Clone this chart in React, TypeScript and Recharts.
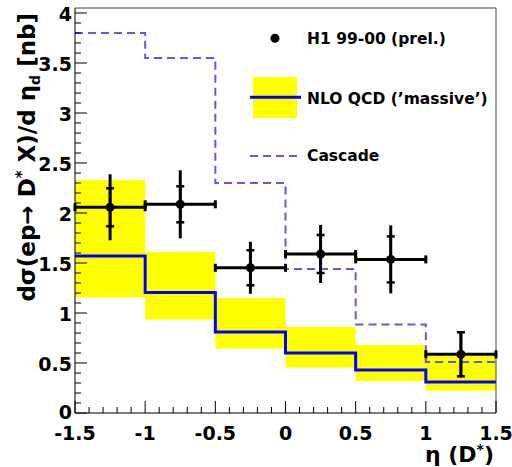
import React from "react";
import {
    ComposedChart,
    Area,
    Line,
    Scatter,
    ErrorBar,
    XAxis,
    YAxis,
    ReferenceLine,
} from "recharts";

// bin edges in eta(D*)
const binEdges = [-1.5, -1, -0.5, 0, 0.5, 1, 1.5];

// NLO QCD ('massive') central value and uncertainty band, per bin
const nloCentral = [1.57, 1.205, 0.81, 0.6, 0.43, 0.31];
const nloLow = [1.155, 0.935, 0.645, 0.455, 0.32, 0.223];
const nloHigh = [2.33, 1.61, 1.15, 0.86, 0.68, 0.575];

// Cascade prediction, per bin
const cascade = [3.8, 3.55, 2.3, 1.44, 0.885, 0.51];

// H1 99-00 (prel.) data points
const h1Eta = [-1.25, -0.75, -0.25, 0.25, 0.75, 1.25];
const h1Value = [2.057, 2.087, 1.452, 1.59, 1.536, 0.587];
const h1StatErr = [0.19, 0.18, 0.175, 0.19, 0.23, 0.22];
const h1TotErr = [0.33, 0.34, 0.26, 0.29, 0.34, 0.23];
const h1EtaHalfWidth = [0.25, 0.25, 0.25, 0.25, 0.25, 0.25];

// axis ticks (majors labelled, minors every 0.1)
const xMajorTicks = [-1.5, -1, -0.5, 0, 0.5, 1, 1.5];
const yMajorTicks = [0, 0.5, 1, 1.5, 2, 2.5, 3, 3.5, 4];

const withMinors = (majors: number[]) => {
    const out: number[] = [];
    majors.forEach((m, i) => {
        out.push(m);
        if (i < majors.length - 1) {
            for (let k = 1; k < 5; k++) out.push(Math.round((m + k * 0.1) * 10) / 10);
        }
    });
    return out;
};
const xTicks = withMinors(xMajorTicks);
const yTicks = withMinors(yMajorTicks);
const isMajor = (v: number) => Math.abs(v * 2 - Math.round(v * 2)) < 1e-6;

const FONT = "'DejaVu Sans', sans-serif";

// step histogram table: last edge repeats the last bin
const histData = binEdges.map((x, i) => {
    const b = Math.min(i, nloCentral.length - 1);
    return {
        x,
        nlo: nloCentral[b],
        band: [nloLow[b], nloHigh[b]],
        cascade: cascade[b],
    };
});

const h1Data = h1Eta.map((x, i) => ({
    x,
    y: h1Value[i],
    stat: h1StatErr[i],
    tot: h1TotErr[i],
    xerr: h1EtaHalfWidth[i],
}));

/* eslint-disable @typescript-eslint/no-explicit-any */
const YTick = (props: any) => {
    const { x, y, payload } = props;
    const v = payload.value as number;
    const major = isMajor(v);
    return (
        <g>
            <line x1={x} x2={x + (major ? 12 : 6)} y1={y} y2={y} stroke="#000" strokeWidth={1} />
            {major && (
                <text x={x - 3} y={y + (v === 0 ? 6 : 8)} textAnchor="end" fontFamily={FONT} fontWeight="bold" fontSize={19} fill="#000">
                    {String(v)}
                </text>
            )}
        </g>
    );
};

const XTick = (props: any) => {
    const { x, y, payload } = props;
    const v = payload.value as number;
    const major = isMajor(v);
    return (
        <g>
            <line x1={x} x2={x} y1={y} y2={y - (major ? 12 : 6)} stroke="#000" strokeWidth={1} />
            {major && (
                <text x={x} y={y + 27} textAnchor="middle" fontFamily={FONT} fontWeight="bold" fontSize={19} fill="#000">
                    {String(v)}
                </text>
            )}
        </g>
    );
};

const Dot = (props: any) => <circle cx={props.cx} cy={props.cy} r={4.5} fill="#000" />;

export default function App() {
    return (
        <div style={{ position: "absolute", left: 0, top: 0, width: 512, height: 467, background: "#fff" }}>
            <ComposedChart
                width={512}
                height={467}
                data={histData}
                margin={{ top: 8, right: 16, bottom: 0, left: 0 }}
            >
                <XAxis
                    dataKey="x"
                    type="number"
                    domain={[-1.5, 1.5]}
                    allowDataOverflow
                    ticks={xTicks}
                    interval={0}
                    tickSize={0}
                    tickMargin={0}
                    tick={XTick}
                    axisLine={{ stroke: "#000", strokeWidth: 1 }}
                    height={54}
                />
                <YAxis
                    type="number"
                    domain={[0, 4.05]}
                    allowDataOverflow
                    ticks={yTicks}
                    interval={0}
                    tickSize={0}
                    tickMargin={0}
                    tick={YTick}
                    axisLine={{ stroke: "#000", strokeWidth: 1 }}
                    width={75}
                />
                {/* NLO uncertainty band */}
                <Area
                    dataKey="band"
                    type="stepAfter"
                    fill="#ffff00"
                    fillOpacity={1}
                    stroke="none"
                    isAnimationActive={false}
                />
                {/* Cascade */}
                <Line
                    dataKey="cascade"
                    type="stepAfter"
                    stroke="#5a5af0"
                    strokeWidth={2}
                    strokeDasharray="8 5"
                    dot={false}
                    activeDot={false}
                    isAnimationActive={false}
                />
                {/* NLO central */}
                <Line
                    dataKey="nlo"
                    type="stepAfter"
                    stroke="#0000ff"
                    strokeWidth={3}
                    dot={false}
                    activeDot={false}
                    isAnimationActive={false}
                />
                <ReferenceLine y={4.05} stroke="#444" strokeWidth={1} />
                <ReferenceLine x={1.5} stroke="#444" strokeWidth={1} />
                {/* H1 data */}
                <Scatter data={h1Data} dataKey="y" shape={Dot} isAnimationActive={false}>
                    <ErrorBar dataKey="tot" direction="y" width={0} stroke="#000" strokeWidth={3} isAnimationActive={false} />
                    <ErrorBar dataKey="stat" direction="y" width={4} stroke="#000" strokeWidth={2.5} isAnimationActive={false} />
                    <ErrorBar dataKey="xerr" direction="x" width={4} stroke="#000" strokeWidth={3} isAnimationActive={false} />
                </Scatter>
            </ComposedChart>
            <svg
                width={512}
                height={467}
                style={{ position: "absolute", left: 0, top: 0, pointerEvents: "none" }}
            >
                <g fontFamily={FONT} fontWeight="bold" fill="#000">
                    {/* legend */}
                    <circle cx={275} cy={38.3} r={4.5} fill="#000" />
                    <text x={307} y={44} fontSize={15.5}>H1 99-00 (prel.)</text>
                    <rect x={253} y={77} width={44} height={41} fill="#ffff00" />
                    <line x1={250} x2={301} y1={97.3} y2={97.3} stroke="#0000ff" strokeWidth={3} />
                    <text x={307} y={104} fontSize={15.5}>NLO QCD (’massive’)</text>
                    <line x1={250} x2={301} y1={156} y2={156} stroke="#5a5af0" strokeWidth={2} strokeDasharray="8 5" />
                    <text x={307} y={161} fontSize={15.5}>Cascade</text>
                    {/* axis titles */}
                    <text transform="translate(35,13) rotate(-90)" textAnchor="end" fontSize={23}>
                        <tspan>dσ(ep→ D</tspan>
                        <tspan dy={-8} fontSize={15}>*</tspan>
                        <tspan dy={8}> X)/d η</tspan>
                        <tspan dy={5} fontSize={14}>d</tspan>
                        <tspan dy={-5}> [nb]</tspan>
                    </text>
                    <text x={494} y={462} textAnchor="end" fontSize={22}>
                        <tspan>η (D</tspan>
                        <tspan dy={-8} fontSize={14}>*</tspan>
                        <tspan dy={8}>)</tspan>
                    </text>
                </g>
            </svg>
        </div>
    );
}
